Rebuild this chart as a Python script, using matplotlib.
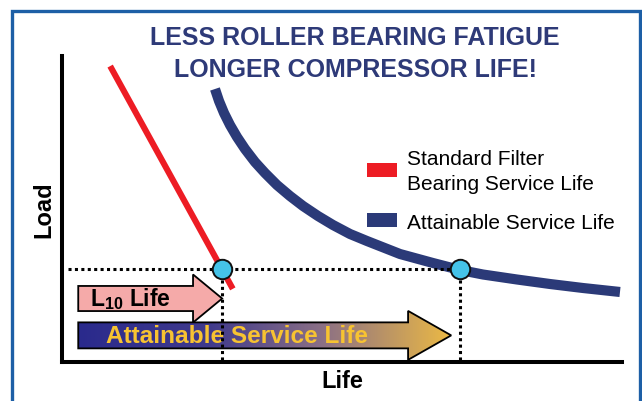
import numpy as np
import matplotlib
matplotlib.use("Agg")
import matplotlib.pyplot as plt
from matplotlib.patches import FancyArrow, Rectangle
from matplotlib.colors import LinearSegmentedColormap

plt.rcParams.update({"font.family": ["Liberation Sans", "DejaVu Sans"],
                     "mathtext.fontset": "custom",
                     "mathtext.rm": "Liberation Sans:bold",
                     "mathtext.bf": "Liberation Sans:bold"})

NAVY = "#2b3a78"; RED = "#ed1c24"; CYAN = "#45c3e8"; BORDER = "#1d5fa6"
PINK = "#f5aaa9"; GOLD = "#f7c331"

# data (life vs load, arbitrary 0-100 units)
std_life = [8.6, 30.5]
std_load = [96.7, 23.9]
att_life = [27.32, 28.04, 28.93, 30.00, 31.25, 32.68, 34.46, 36.25, 38.39,
            40.71, 43.04, 45.71, 48.39, 51.43, 54.46, 60.36, 66.25, 71.07,
            75.18, 81.25, 87.14, 93.04, 99.64]
att_load = [89.22, 85.29, 81.37, 77.45, 73.53, 69.61, 65.36, 61.76, 57.84,
            54.25, 50.98, 47.71, 44.77, 41.83, 39.54, 35.29, 32.35, 30.07,
            28.59, 26.96, 25.49, 24.18, 22.88]
design_load = 30.4
l10_life = 28.6
attain_life = 71.1

fig = plt.figure(figsize=(6.42, 4.02), dpi=100)
ax = fig.add_axes([62 / 642, 39 / 402, 560 / 642, 306 / 402])

# border
fig.patches.append(Rectangle((12 / 642, -0.1), 628 / 642, 1.1 - 12 / 402,
                             transform=fig.transFigure, fill=False,
                             ec=BORDER, lw=2.4, zorder=0))

# curves
ax.plot(att_life, att_load, color=NAVY, lw=7.3, solid_capstyle="butt",
        solid_joinstyle="round", zorder=3)
ax.plot(std_life, std_load, color=RED, lw=4.4, solid_capstyle="butt", zorder=3)

# dotted guides
dot = dict(color="black", lw=2.2, ls=(0, (1, 1.1)), zorder=5)
ax.plot([1.0, attain_life], [design_load, design_load], **dot)
ax.plot([l10_life, l10_life], [0.5, design_load], **dot)
ax.plot([attain_life, attain_life], [0.5, design_load], **dot)
ax.plot([l10_life, attain_life], [design_load, design_load], "o", ms=14,
        mfc=CYAN, mec="#111111", mew=1.4, zorder=6)

# L10 arrow
a1 = FancyArrow(2.9, 20.75, l10_life - 2.9, 0, width=8.2, head_width=15.7,
                head_length=5.2, length_includes_head=True,
                fc=PINK, ec="black", lw=1.3, zorder=2)
ax.add_patch(a1)
ax.text(5.0, 20.75, r"L$_{10}$ Life", fontsize=16.5, fontweight="bold",
        va="center", ha="left", zorder=4)

# attainable arrow with gradient
tip = attain_life - 1.6
a2 = FancyArrow(2.9, 8.7, tip - 2.9, 0, width=8.5, head_width=16.0,
                head_length=7.7, length_includes_head=True,
                fc="none", ec="black", lw=1.3, zorder=2.5)
ax.add_patch(a2)
cmap = LinearSegmentedColormap.from_list(
    "g", [(0, "#2a2a8c"), (0.35, "#403a8c"), (0.65, "#8a6f86"), (1, "#ebb945")])
grad = np.linspace(0, 1, 256).reshape(1, -1)
im = ax.imshow(grad, extent=[2.9, tip, 0.5, 17.0], aspect="auto", cmap=cmap,
               zorder=2)
im.set_clip_path(a2)
ax.text(31.2, 8.7, "Attainable Service Life", fontsize=17.6, fontweight="bold",
        color=GOLD, ha="center", va="center", zorder=4)

ax.set_xlim(0, 100)
ax.set_ylim(0, 100)
for s in ["top", "right"]:
    ax.spines[s].set_visible(False)
for s in ["left", "bottom"]:
    ax.spines[s].set_linewidth(2.9)
    ax.spines[s].set_capstyle("projecting")
ax.set_xticks([]); ax.set_yticks([])
ax.set_xlabel("Life", fontsize=17, fontweight="bold", labelpad=5)
ax.set_ylabel("Load", fontsize=17, fontweight="bold", labelpad=5)

# title
fig.text(355 / 642, 1 - 38 / 402, "LESS ROLLER BEARING FATIGUE", color="#2e3a78",
         fontsize=18, fontweight="bold", ha="center", va="center")
fig.text(356 / 642, 1 - 70 / 402, "LONGER COMPRESSOR LIFE!", color="#2e3a78",
         fontsize=18, fontweight="bold", ha="center", va="center")

# legend
fig.patches.append(Rectangle((367 / 642, 1 - 178 / 402), 30 / 642, 14 / 402,
                             transform=fig.transFigure, fc=RED, ec="none"))
fig.patches.append(Rectangle((367 / 642, 1 - 228 / 402), 30 / 642, 14 / 402,
                             transform=fig.transFigure, fc=NAVY, ec="none"))
fig.text(407 / 642, 1 - 160 / 402, "Standard Filter", fontsize=15, va="center")
fig.text(407 / 642, 1 - 185 / 402, "Bearing Service Life", fontsize=15, va="center")
fig.text(407 / 642, 1 - 224 / 402, "Attainable Service Life", fontsize=15, va="center")

fig.savefig("out.png", dpi=100)
